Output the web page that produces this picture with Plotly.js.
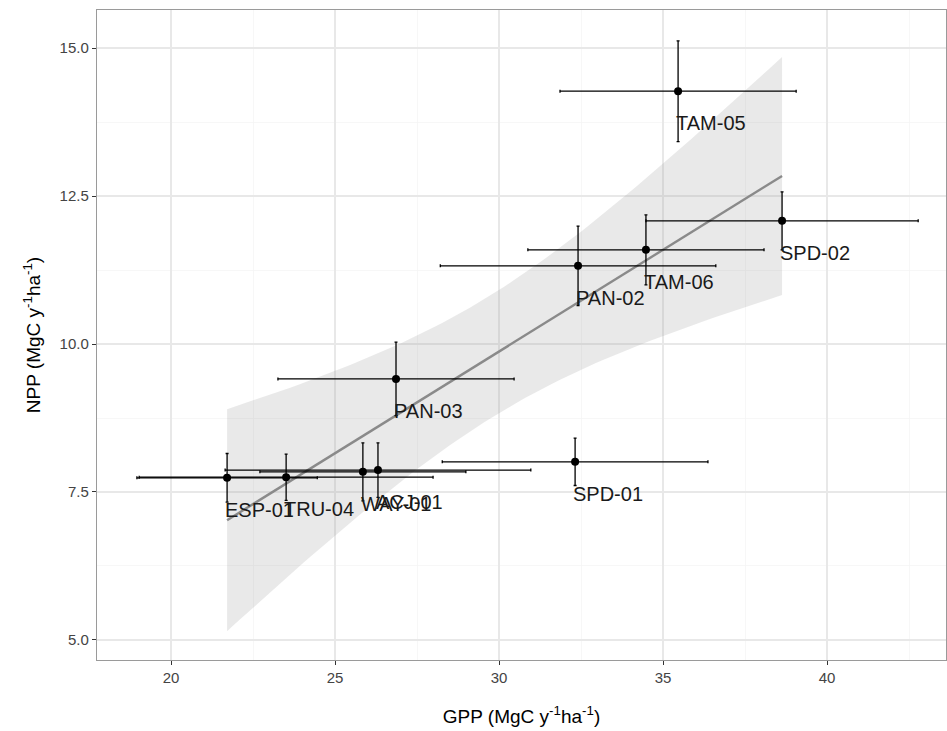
<!DOCTYPE html>
<html>
<head>
<meta charset="utf-8">
<script src="https://cdn.plot.ly/plotly-3.0.1.min.js"></script>
<style>
  html, body { margin: 0; padding: 0; background: #ffffff; }
  #chart { width: 947px; height: 731px; }
</style>
</head>
<body>
<div id="chart"></div>
<script>
// Plot sites: GPP vs NPP with ±uncertainty
const site   = ['ESP-01', 'TRU-04', 'WAY-01', 'ACJ-01', 'PAN-03', 'SPD-01', 'PAN-02', 'TAM-06', 'TAM-05', 'SPD-02'];
const gpp    = [21.71, 23.51, 25.85, 26.31, 26.86, 32.32, 32.41, 34.48, 35.46, 38.63];
const npp    = [7.74, 7.75, 7.84, 7.87, 9.41, 8.01, 11.32, 11.59, 14.27, 12.08];
const gppErr = [2.75, 4.48, 3.14, 4.66, 3.60, 4.05, 4.20, 3.60, 3.60, 4.15];
const nppErr = [0.41, 0.39, 0.49, 0.46, 0.62, 0.40, 0.67, 0.59, 0.85, 0.49];

// Ordinary least squares fit of NPP on GPP with a 95% confidence band
const T975_DF8 = 2.306;
function linearFit(x, y) {
  const n = x.length;
  const mx = x.reduce((a, b) => a + b, 0) / n;
  const my = y.reduce((a, b) => a + b, 0) / n;
  let sxx = 0, sxy = 0;
  for (let i = 0; i < n; i++) {
    sxx += (x[i] - mx) * (x[i] - mx);
    sxy += (x[i] - mx) * (y[i] - my);
  }
  const slope = sxy / sxx;
  const intercept = my - slope * mx;
  let ssr = 0;
  for (let i = 0; i < n; i++) {
    const r = y[i] - (intercept + slope * x[i]);
    ssr += r * r;
  }
  const s = Math.sqrt(ssr / (n - 2));
  return { n, mx, sxx, slope, intercept, s };
}
const fit = linearFit(gpp, npp);
const xMin = Math.min(...gpp), xMax = Math.max(...gpp);
const steps = 80;
const fx = [], fy = [], lo = [], hi = [];
for (let k = 0; k <= steps; k++) {
  const xv = xMin + (xMax - xMin) * k / steps;
  const yv = fit.intercept + fit.slope * xv;
  const se = fit.s * Math.sqrt(1 / fit.n + (xv - fit.mx) * (xv - fit.mx) / fit.sxx);
  fx.push(xv); fy.push(yv);
  lo.push(yv - T975_DF8 * se);
  hi.push(yv + T975_DF8 * se);
}

const bandTrace = {
  x: fx.concat(fx.slice().reverse()),
  y: hi.concat(lo.slice().reverse()),
  type: 'scatter', mode: 'lines',
  fill: 'toself',
  fillcolor: 'rgba(153,153,153,0.22)',
  line: { width: 0, color: 'rgba(0,0,0,0)' },
  hoverinfo: 'skip', showlegend: false
};
const fitTrace = {
  x: fx, y: fy, type: 'scatter', mode: 'lines',
  line: { color: '#8a8a8a', width: 2.4 },
  hoverinfo: 'skip', showlegend: false
};
const siteTrace = {
  x: gpp, y: npp, type: 'scatter', mode: 'markers',
  text: site,
  marker: { color: '#000000', size: 8 },
  error_x: { type: 'data', array: gppErr, symmetric: true, color: '#000000', thickness: 1.3, width: 1.5 },
  error_y: { type: 'data', array: nppErr, symmetric: true, color: '#000000', thickness: 1.3, width: 1.5 },
  showlegend: false
};

const labels = site.map((s, i) => ({
  x: gpp[i], y: npp[i], xref: 'x', yref: 'y',
  text: s, showarrow: false,
  xanchor: 'left', yanchor: 'middle',
  xshift: -4, yshift: -32,
  font: { family: 'Arial, Liberation Sans, sans-serif', size: 20, color: '#1a1a1a' }
}));

const axisFont = { family: 'Arial, Liberation Sans, sans-serif', size: 15, color: '#444444' };
const layout = {
  width: 947, height: 731,
  margin: { l: 97, r: 1, t: 10, b: 71 },
  paper_bgcolor: '#ffffff', plot_bgcolor: '#ffffff',
  font: { family: 'Arial, Liberation Sans, sans-serif' },
  xaxis: {
    range: [17.744, 43.628],
    tickvals: [20, 25, 30, 35, 40],
    ticktext: ['20', '25', '30', '35', '40'],
    tickfont: axisFont,
    ticks: 'outside', ticklen: 4, tickwidth: 1, tickcolor: '#333333',
    showgrid: true, gridcolor: '#e8e8e8', gridwidth: 1.1,
    minor: { dtick: 2.5, tick0: 17.5, showgrid: true, gridcolor: '#f4f4f4', gridwidth: 0.7 },
    zeroline: false,
    showline: true, mirror: true, linecolor: '#9a9a9a', linewidth: 1.2,
    title: { text: 'GPP (MgC y<sup>-1</sup>ha<sup>-1</sup>)', font: { family: 'Arial, Liberation Sans, sans-serif', size: 19, color: '#000000' }, standoff: 24 }
  },
  yaxis: {
    range: [4.662, 15.642],
    tickvals: [5, 7.5, 10, 12.5, 15],
    ticktext: ['5.0', '7.5', '10.0', '12.5', '15.0'],
    tickfont: axisFont,
    ticks: 'outside', ticklen: 4, tickwidth: 1, tickcolor: '#333333',
    showgrid: true, gridcolor: '#e8e8e8', gridwidth: 1.1,
    minor: { dtick: 1.25, tick0: 3.75, showgrid: true, gridcolor: '#f4f4f4', gridwidth: 0.7 },
    zeroline: false,
    showline: true, mirror: true, linecolor: '#9a9a9a', linewidth: 1.2,
    title: { text: 'NPP (MgC y<sup>-1</sup>ha<sup>-1</sup>)', font: { family: 'Arial, Liberation Sans, sans-serif', size: 19, color: '#000000' }, standoff: 14 }
  },
  annotations: labels,
  showlegend: false
};

Plotly.newPlot('chart', [bandTrace, fitTrace, siteTrace], layout, { displayModeBar: false, staticPlot: true });
</script>
</body>
</html>
